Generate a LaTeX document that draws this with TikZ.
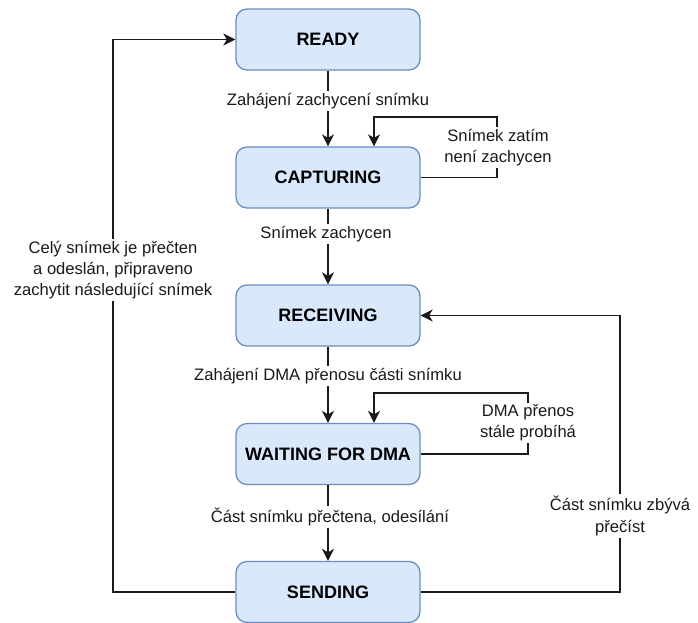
\documentclass[tikz,border=0pt]{standalone}
\usepackage{fontspec}
\setmainfont{Liberation Sans}
\usetikzlibrary{arrows.meta}

\definecolor{stateFill}{HTML}{DAE8FC}
\definecolor{stateLine}{HTML}{6C8EBF}
\definecolor{wire}{HTML}{1A1A1A}

\tikzset{
  state/.style={draw=stateLine, fill=stateFill, line width=1.3pt,
    rounded corners=11pt, minimum width=184pt, minimum height=61pt,
    inner sep=0pt, font=\fontsize{18}{21}\selectfont\bfseries},
  arr/.style={draw=wire, line width=1.5pt,
    -{Stealth[length=12pt, width=12pt, inset=3.5pt]}},
  lbl/.style={fill=white, inner sep=2pt, align=center, text=wire,
    font=\fontsize{16.6}{21.3}\selectfont},
}

\begin{document}
\begin{tikzpicture}[x=1pt, y=-1pt]
  \useasboundingbox (0,0) rectangle (698,623);

  % states
  \node[state] (ready) at (328,39.5)  {READY};
  \node[state] (cap)   at (328,177.5) {CAPTURING};
  \node[state] (recv)  at (328,315.5) {RECEIVING};
  \node[state] (wait)  at (328,454)   {WAITING FOR DMA};
  \node[state] (send)  at (328,592)   {SENDING};

  % helper points for the loops
  \coordinate (capLoop)  at (497,117);
  \coordinate (waitLoop) at (528,393);
  \coordinate (leftx)    at (113,0);
  \coordinate (rightx)   at (620,0);

  % main sequence
  \draw[arr] (ready) -- (cap);
  \draw[arr] (cap) -- (recv);
  \draw[arr] (recv) -- (wait);
  \draw[arr] (wait) -- (send);

  % self loops
  \draw[arr] (cap.east) -| (capLoop) -| ([xshift=46pt]cap.north);
  \draw[arr] (wait.east) -| (waitLoop) -| ([xshift=46pt]wait.north);

  % return paths
  \draw[arr] (send.west) -- (send.west -| leftx) -- (ready.west -| leftx) -- (ready.west);
  \draw[arr] (send.east) -- (send.east -| rightx) -- (recv.east -| rightx) -- (recv.east);

  % transition labels
  \node[lbl] (l1) at (328,101) {Zahájení zachycení snímku};
  \node[lbl] (l2) at (326,234) {Snímek zachycen};
  \node[lbl] (l3) at (328,376) {Zahájení DMA přenosu části snímku};
  \node[lbl] (l4) at (330,517) {Část snímku přečtena, odesílání};
  \node[lbl] (l5) at (498,147.5) {Snímek zatím\\není zachycen};
  \node[lbl] (l6) at (528,423) {DMA přenos\\stále probíhá};
  \node[lbl] (l7) at (620,516) {Část snímku zbývá\\přečíst};
  \node[lbl] (l8) at (113,270) {Celý snímek je přečten\\a odeslán, připraveno\\zachytit následující snímek};
\end{tikzpicture}
\end{document}
